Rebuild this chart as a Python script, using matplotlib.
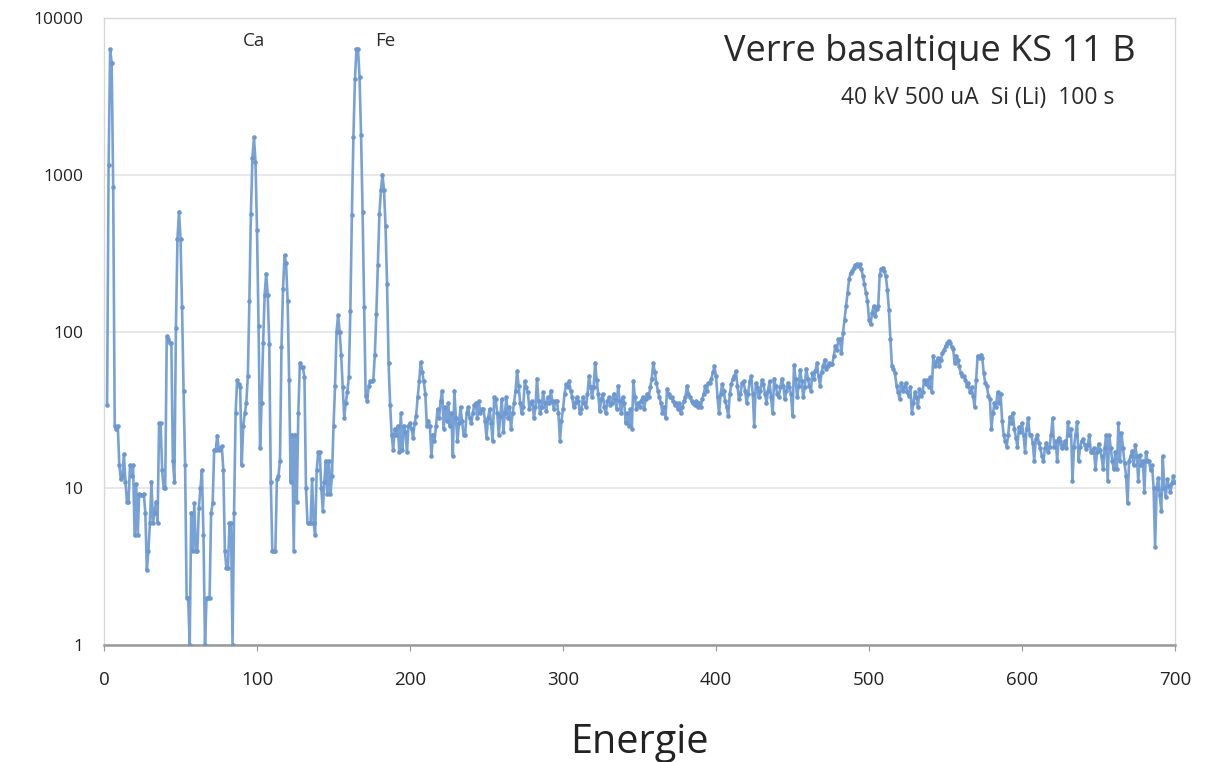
import matplotlib.pyplot as plt
import matplotlib.ticker as mticker
import numpy as np

plt.rcParams['font.family'] = ['Open Sans', 'DejaVu Sans']

# counts per channel, starting at channel 2
counts = [
    34, 1150, 6300, 5200, 830, 25, 24, 25, 14,
    11.4, 12, 16.5, 11, 8.2, 8.2, 14, 12, 14, 5,
    10.7, 5, 9.2, 9, 9, 9.2, 7, 3, 4, 6,
    11, 6, 7, 8.2, 6, 26, 26, 13, 10, 10,
    93, 90, 85, 85, 15, 11, 106, 390, 580, 390,
    143, 42, 14, 2, 2, 1, 7, 4, 8, 4,
    4, 7.5, 10, 13, 5, 1, 2, 2, 2, 7,
    8, 17.5, 17.5, 21.7, 17.5, 18, 18.5, 13, 4, 3.1,
    3.1, 6, 6, 1, 7, 30, 49, 46, 44, 14,
    25, 30, 35, 52, 157, 565, 1280, 1740, 1210, 442,
    109, 18, 35, 85, 172, 234, 172, 83, 11, 4,
    4, 4, 11.5, 12, 15, 80, 188, 307, 272, 157,
    49, 11, 22, 4, 22, 8.2, 30, 63, 59, 59,
    51, 10, 6, 6, 6, 11.4, 6, 5, 13, 17,
    17, 10, 7.2, 11, 15, 9.2, 15, 9.2, 12, 25,
    45, 100, 127, 100, 71, 44, 28, 35, 41, 51,
    135, 550, 1740, 4060, 6350, 6350, 4200, 1800, 580, 143,
    39, 36, 45, 48, 48, 49, 71, 130, 265, 565,
    800, 1000, 800, 470, 200, 63, 34, 22, 17.5, 24,
    22, 25, 17, 30, 17.5, 25, 23, 17, 25, 26,
    24, 21, 26, 29, 38, 48, 64, 55, 48, 40,
    25, 27, 25, 16, 22, 20, 25, 32, 28, 36,
    42, 24, 33, 27, 35, 25, 30, 16, 42, 28,
    20, 26, 33, 27, 22, 22, 30, 33, 28, 26,
    30, 34, 35, 28, 36, 30, 32, 32, 27, 21,
    28, 32, 26, 20, 38, 37, 30, 22, 29, 37,
    23, 30, 38, 28, 33, 24, 30, 35, 42, 56,
    45, 35, 30, 33, 48, 44, 41, 32, 35, 36,
    28, 33, 50, 36, 30, 33, 41, 35, 31, 38,
    35, 42, 36, 32, 36, 36, 30, 20, 27, 32,
    40, 46, 44, 48, 42, 38, 33, 35, 38, 36,
    30, 32, 38, 35, 33, 40, 52, 44, 38, 44,
    63, 49, 40, 31, 37, 40, 33, 30, 36, 38,
    34, 35, 40, 37, 32, 45, 36, 30, 38, 35,
    26, 30, 25, 32, 24, 48, 38, 32, 35, 33,
    36, 38, 32, 37, 40, 38, 44, 50, 63, 55,
    47, 42, 38, 35, 30, 33, 28, 43, 40, 38,
    38, 36, 34, 35, 32, 35, 30, 33, 36, 38,
    45, 40, 38, 36, 35, 34, 36, 33, 35, 33,
    37, 40, 45, 42, 47, 47, 50, 55, 60, 52,
    38, 30, 40, 46, 42, 36, 33, 29, 40, 46,
    50, 52, 56, 45, 37, 40, 47, 48, 42, 35,
    40, 48, 52, 40, 25, 47, 44, 38, 42, 49,
    46, 40, 35, 42, 48, 38, 30, 50, 45, 40,
    38, 44, 50, 45, 37, 42, 47, 44, 40, 29,
    61, 50, 38, 45, 57, 48, 38, 44, 58, 50,
    45, 42, 54, 50, 56, 63, 52, 45, 55, 60,
    66, 58, 60, 63, 62, 62, 70, 81, 76, 89,
    89, 73, 98, 119, 145, 176, 215, 237, 245, 255,
    265, 268, 262, 268, 250, 225, 200, 176, 156, 119,
    111, 131, 145, 125, 140, 145, 230, 250, 255, 243,
    225, 185, 138, 89, 60, 58, 54, 45, 41, 37,
    47, 42, 44, 47, 41, 39, 44, 30, 35, 41,
    38, 33, 43, 39, 41, 49, 46, 49, 44, 51,
    41, 70, 60, 64, 68, 60, 66, 73, 76, 81,
    84, 87, 85, 80, 77, 63, 70, 66, 60, 54,
    52, 52, 49, 45, 47, 41, 44, 39, 33, 49,
    70, 68, 71, 68, 54, 47, 45, 39, 37, 24,
    30, 35, 33, 41, 35, 40, 27, 22, 20, 18.4,
    22, 28.6, 26, 30, 24, 21, 18.4, 24.7, 23, 26,
    22, 17, 24, 28, 22, 22, 19.5, 15, 20.5, 22,
    19.5, 18, 16, 15, 18, 19.5, 17, 18.4, 22, 28,
    18.4, 20, 15, 21, 20, 18, 19, 20, 18, 26.6,
    22, 24, 11.2, 18.4, 22, 26.6, 15, 18.4, 20, 20.5,
    19, 17.8, 19, 21.8, 17, 17, 18, 13.2, 17, 19.2,
    17.6, 16, 13.2, 18, 21.8, 11.2, 21.8, 18, 15, 13.2,
    17, 13.2, 26, 15, 22.6, 18, 14.5, 12, 8, 15,
    16, 17.3, 14, 19, 16, 11.2, 16.2, 14, 15, 9.5,
    17, 15, 15, 13, 14, 10.1, 4.2, 10.1, 11.6, 9,
    7.2, 16, 10.1, 8.8, 11.4, 10.3, 9.4, 10.8, 12, 11,
]
energie = np.arange(2, 2 + len(counts))

y_ticks = [1, 10, 100, 1000, 10000]
x_ticks = [0, 100, 200, 300, 400, 500, 600, 700]

fig = plt.figure(figsize=(12.18, 7.62), dpi=100)
ax = fig.add_axes([0.0854, 0.1535, 0.8793, 0.8229])

ax.plot(energie, counts, color='#78A2D5', lw=1.9, marker='o', ms=2.3,
        mec='#6C98CF', mfc='#6C98CF', zorder=3)

ax.set_yscale('log')
ax.set_ylim(1, 10000)
ax.set_xlim(0, 700)
ax.yaxis.set_major_locator(mticker.FixedLocator(y_ticks))
ax.yaxis.set_minor_locator(mticker.NullLocator())
ax.yaxis.set_major_formatter(mticker.FuncFormatter(lambda v, p: '%d' % v))
ax.set_xticks(x_ticks)

ax.grid(axis='y', color='#E4E4E4', lw=1.2, zorder=0)
for s in ['top', 'right', 'left']:
    ax.spines[s].set_color('#D8D8D8')
    ax.spines[s].set_linewidth(1.0)
ax.spines['bottom'].set_color('#9A9A9A')
ax.spines['bottom'].set_linewidth(1.8)

ax.tick_params(axis='y', length=0, pad=15, labelsize=12.5, labelcolor='#222222')
ax.tick_params(axis='x', length=4, color='#9A9A9A', pad=15, labelsize=13.5,
               labelcolor='#222222')

ax.set_xlabel('Energie', fontsize=28.5, color='#222222', labelpad=24)

ax.text(0.963, 0.946, 'Verre basaltique KS 11 B', transform=ax.transAxes,
        ha='right', va='center', fontsize=26, color='#2A2A2A')
ax.text(0.943, 0.872, '40 kV 500 uA  Si (Li)  100 s', transform=ax.transAxes,
        ha='right', va='center', fontsize=16.5, color='#2A2A2A')
ax.text(98, 7100, 'Ca', ha='center', va='center', fontsize=13.5, color='#2A2A2A')
ax.text(184, 7100, 'Fe', ha='center', va='center', fontsize=13.5, color='#2A2A2A')

fig.savefig('out.png', dpi=100)
